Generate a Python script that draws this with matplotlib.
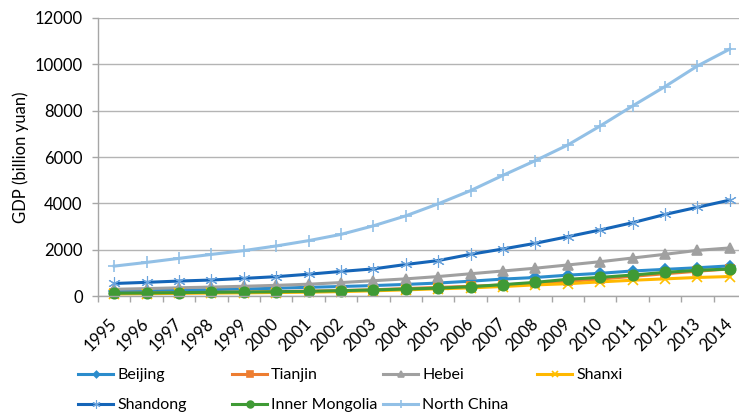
import numpy as np
import matplotlib
matplotlib.use("Agg")
from matplotlib import pyplot as plt

plt.rcParams['font.family'] = ['Lato', 'DejaVu Sans']

years = [str(y) for y in range(1995, 2015)]

beijing = [200, 225, 250, 275, 300, 335, 375, 410, 450, 500, 560, 640, 730,
           800, 900, 980, 1080, 1150, 1220, 1300]
tianjin = [110, 125, 140, 155, 170, 190, 210, 235, 270, 320, 370, 420, 480,
           540, 630, 730, 850, 960, 1070, 1170]
hebei = [290, 320, 355, 385, 420, 460, 510, 580, 660, 740, 840, 960, 1080,
         1200, 1340, 1480, 1640, 1800, 1970, 2075]
shanxi = [90, 100, 115, 125, 135, 150, 165, 190, 225, 265, 310, 350, 410,
          480, 530, 610, 680, 740, 800, 840]
shandong = [540, 590, 645, 690, 760, 835, 940, 1060, 1170, 1360, 1530, 1800, 2030,
            2276, 2560, 2850, 3165, 3520, 3830, 4140]
inner_mongolia = [120, 130, 145, 160, 170, 185, 200, 230, 260, 300, 340, 400, 490,
                  590, 720, 805, 905, 1020, 1110, 1165]
north_china = [1290, 1450, 1625, 1795, 1960, 2160, 2390, 2660, 3030, 3460, 3980, 4550, 5210,
               5845, 6520, 7340, 8205, 9040, 9930, 10660]

# name, data, line colour, marker, marker colour, marker size, marker edge width
series = [
    ("Beijing", beijing, "#2b8ccc", "D", "#2b8ccc", 5, 1.2),
    ("Tianjin", tianjin, "#ed7d31", "s", "#ed7d31", 6, 1.2),
    ("Hebei", hebei, "#a0a0a0", "^", "#a0a0a0", 7.5, 1.2),
    ("Shanxi", shanxi, "#ffb800", "x", "#ffc000", 7, 1.2),
    ("Shandong", shandong, "#1565b8", (6, 2, 0), "#6aa3dc", 9, 0.8),
    ("Inner Mongolia", inner_mongolia, "#3f9a35", "o", "#3f9a35", 7.5, 1.2),
    ("North China", north_china, "#92c0e6", "+", "#92c0e6", 8, 1.2),
]

fig = plt.figure(figsize=(7.39, 4.19), dpi=100)
ax = fig.add_axes([98/739, 1-296/419, 648/739, 278/419])

x = np.arange(len(years))
lines = {}
for name, vals, lc, mk, mc, ms, mew in series:
    ln, = ax.plot(x, vals, color=lc, lw=2.2, marker=mk, markersize=ms,
                  markerfacecolor=mc, markeredgecolor=mc, markeredgewidth=mew,
                  label=name, clip_on=False)
    lines[name] = ln

ax.set_xlim(-0.5, len(years) - 0.5)
ax.set_ylim(0, 12000)
ax.set_yticks(np.arange(0, 12001, 2000))
ax.set_xticks(x)
ax.set_xticklabels(years, rotation=45, ha='right', va='center', rotation_mode='anchor')
ax.set_xticks(np.arange(-0.5, len(years), 1), minor=True)
ax.tick_params(axis='x', which='major', length=0, pad=18, labelsize=12, colors='#000000')
ax.tick_params(axis='x', which='minor', length=4, width=1, color='#a6a6a6', direction='out')
ax.tick_params(axis='y', length=4, width=1, color='#a6a6a6', pad=7, labelsize=12)

ax.grid(axis='y', color='#b4b4b4', lw=1)
ax.set_axisbelow(True)
for s in ['top', 'right']:
    ax.spines[s].set_visible(False)
for s in ['left', 'bottom']:
    ax.spines[s].set_color('#a6a6a6')
    ax.spines[s].set_linewidth(1)

ax.set_ylabel("GDP (billion yuan)", fontsize=12, labelpad=4)

# legend laid out as fixed columns of two rows
columns = [["Beijing", "Shandong"], ["Tianjin", "Inner Mongolia"],
           ["Hebei", "North China"], ["Shanxi"]]
col_x = [78, 232, 383, 537]
for names, cx in zip(columns, col_x):
    leg = fig.legend([lines[n] for n in names], names, loc='upper left',
                     bbox_to_anchor=(cx/739, 1-368/419), frameon=False,
                     fontsize=11.5, handlelength=2.2, handletextpad=0.25,
                     labelspacing=1.0, borderpad=0, borderaxespad=0,
                     markerscale=0.65)

fig.savefig("out.png", dpi=100)
